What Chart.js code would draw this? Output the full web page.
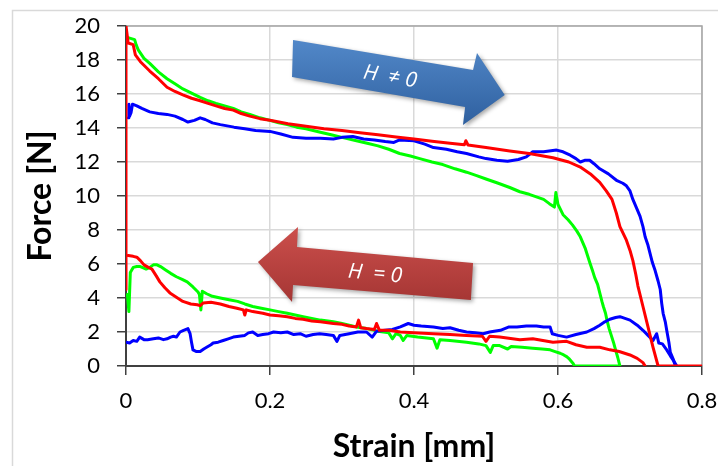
<!DOCTYPE html>
<html>
<head>
<meta charset="utf-8">
<script src="https://cdn.jsdelivr.net/npm/chart.js@4.4.1/dist/chart.umd.min.js"></script>
<style>
  html, body { margin: 0; padding: 0; background: #fff; }
  #wrap { width: 718px; height: 466px; position: relative; }
</style>
</head>
<body>
<div id="wrap"><canvas id="c" width="718" height="466"></canvas></div>
<script>
// Force vs strain loops: loading branch (H ≠ 0) and unloading branch (H = 0)
// for three samples. Each point is [strain in mm, force in N].

const xTicks = [0, 0.2, 0.4, 0.6, 0.8];
const yTicks = [0, 2, 4, 6, 8, 10, 12, 14, 16, 18, 20];

const redLoading = [
  [0,4.5],[0,20],[0.003,19.0],[0.010,18.9],[0.013,18.3],[0.020,17.9],[0.033,17.35],[0.045,16.9],
  [0.057,16.4],[0.068,16.15],[0.079,15.95],[0.091,15.75],[0.103,15.6],[0.114,15.45],[0.125,15.3],
  [0.137,15.15],[0.149,15.05],[0.160,14.85],[0.172,14.7],[0.186,14.55],[0.2,14.45],[0.225,14.25],
  [0.25,14.1],[0.275,13.95],[0.3,13.85],[0.325,13.72],[0.35,13.6],[0.375,13.47],[0.4,13.35],
  [0.425,13.22],[0.45,13.1],[0.470,13.02],[0.472,13.25],[0.475,13.0],[0.5,12.85],[0.533,12.65],
  [0.56,12.5],[0.593,12.25],[0.615,12.0],[0.631,11.7],[0.645,11.3],[0.658,10.8],[0.667,10.3],
  [0.675,9.8],[0.681,9.0],[0.686,8.2],[0.695,7.4],[0.700,6.8],[0.704,6.2],[0.708,5.4],[0.711,4.7],
  [0.718,3.5],[0.725,2.3],[0.732,1.1],[0.739,0],[0.8,0]
];
const redUnloading = [
  [0.003,6.5],[0.010,6.45],[0.015,6.4],[0.020,6.2],[0.025,5.95],[0.031,5.8],[0.036,5.7],[0.042,5.3],
  [0.047,4.95],[0.054,4.6],[0.061,4.3],[0.07,4.05],[0.079,3.8],[0.09,3.65],[0.099,3.6],[0.103,3.55],
  [0.107,3.7],[0.118,3.75],[0.131,3.65],[0.143,3.5],[0.154,3.4],[0.163,3.3],[0.165,3.0],[0.167,3.3],
  [0.176,3.2],[0.19,3.1],[0.2,3.0],[0.212,2.95],[0.224,2.9],[0.235,2.8],[0.246,2.75],[0.258,2.65],
  [0.27,2.6],[0.288,2.5],[0.3,2.45],[0.31,2.35],[0.32,2.3],[0.323,2.7],[0.326,2.25],[0.334,2.2],
  [0.345,2.15],[0.348,2.5],[0.352,2.1],[0.365,2.1],[0.381,2.0],[0.4,1.95],[0.427,1.9],[0.45,1.85],
  [0.473,1.8],[0.495,1.75],[0.5,1.45],[0.505,1.75],[0.519,1.7],[0.547,1.55],[0.565,1.6],[0.593,1.4],
  [0.612,1.45],[0.625,1.25],[0.64,1.1],[0.658,1.1],[0.672,0.95],[0.685,0.85],[0.7,0.65],[0.71,0.45],
  [0.718,0.2],[0.721,0]
];

const blueLoading = [
  [0.003,14.6],[0.004,15.4],[0.005,14.7],[0.007,14.9],[0.009,15.4],[0.015,15.3],[0.022,15.15],
  [0.033,14.95],[0.045,14.85],[0.057,14.8],[0.068,14.7],[0.079,14.5],[0.086,14.35],[0.095,14.45],
  [0.103,14.6],[0.11,14.5],[0.12,14.3],[0.131,14.2],[0.15,14.05],[0.165,13.95],[0.18,13.85],[0.2,13.8],
  [0.215,13.65],[0.232,13.45],[0.25,13.4],[0.27,13.4],[0.288,13.35],[0.3,13.45],[0.315,13.5],
  [0.33,13.35],[0.345,13.3],[0.36,13.2],[0.372,13.15],[0.38,13.3],[0.4,13.25],[0.415,13.05],
  [0.427,12.85],[0.445,12.75],[0.46,12.6],[0.473,12.5],[0.49,12.3],[0.5,12.2],[0.515,12.1],
  [0.53,12.05],[0.545,12.15],[0.556,12.3],[0.565,12.6],[0.58,12.6],[0.598,12.7],[0.607,12.6],
  [0.617,12.4],[0.625,12.2],[0.631,12.0],[0.637,12.1],[0.644,12.1],[0.65,11.9],[0.658,11.6],
  [0.67,11.3],[0.682,10.9],[0.69,10.75],[0.695,10.6],[0.7,10.3],[0.704,9.8],[0.709,9.3],[0.714,8.8],
  [0.718,8.2],[0.721,7.6],[0.725,7.1],[0.728,6.6],[0.731,6.1],[0.735,5.6],[0.739,5.0],[0.742,4.5],
  [0.744,3.7],[0.746,3.1],[0.749,2.6],[0.751,2.1],[0.754,1.4],[0.756,0.8],[0.76,0.4],[0.763,0]
];
const blueUnloading = [
  [0,1.4],[0.005,1.35],[0.01,1.5],[0.015,1.45],[0.019,1.7],[0.025,1.55],[0.03,1.55],[0.038,1.6],
  [0.045,1.65],[0.052,1.55],[0.057,1.6],[0.062,1.7],[0.066,1.75],[0.07,1.7],[0.075,2.0],[0.08,2.1],
  [0.086,2.2],[0.089,1.9],[0.091,1.4],[0.093,0.95],[0.098,0.85],[0.103,0.85],[0.108,1.0],[0.112,1.1],
  [0.118,1.25],[0.121,1.35],[0.128,1.4],[0.135,1.5],[0.142,1.6],[0.149,1.7],[0.157,1.75],[0.165,1.8],
  [0.17,1.95],[0.176,2.0],[0.183,1.8],[0.19,1.85],[0.198,1.9],[0.205,2.0],[0.215,1.95],[0.224,2.0],
  [0.233,1.85],[0.242,1.9],[0.25,1.75],[0.26,1.85],[0.269,1.9],[0.278,1.85],[0.288,1.8],[0.293,1.45],
  [0.297,1.8],[0.31,1.9],[0.322,2.0],[0.334,2.0],[0.342,1.7],[0.348,2.05],[0.36,2.1],[0.37,2.15],
  [0.381,2.3],[0.392,2.5],[0.4,2.4],[0.41,2.35],[0.427,2.3],[0.44,2.2],[0.45,2.25],[0.462,2.1],
  [0.473,2.0],[0.485,1.95],[0.496,1.9],[0.505,2.0],[0.52,2.1],[0.532,2.3],[0.543,2.3],[0.556,2.35],
  [0.57,2.35],[0.58,2.3],[0.589,2.3],[0.592,1.9],[0.6,1.8],[0.612,1.7],[0.625,1.85],[0.64,2.0],
  [0.65,2.2],[0.658,2.4],[0.665,2.6],[0.672,2.75],[0.68,2.85],[0.686,2.9],[0.693,2.8],[0.7,2.7],
  [0.71,2.4],[0.718,2.1],[0.725,1.8],[0.732,1.5],[0.737,1.9],[0.74,1.35],[0.745,1.3],[0.751,0.95],
  [0.756,0.6],[0.76,0.35],[0.765,0]
];

const greenLoading = [
  [0.004,19.3],[0.012,19.2],[0.014,18.9],[0.017,18.6],[0.025,18.1],[0.033,17.8],[0.045,17.3],
  [0.057,16.9],[0.068,16.6],[0.079,16.3],[0.091,16.05],[0.103,15.8],[0.114,15.6],[0.125,15.45],
  [0.137,15.3],[0.149,15.15],[0.16,14.95],[0.172,14.8],[0.186,14.6],[0.2,14.45],[0.212,14.3],
  [0.224,14.2],[0.237,14.05],[0.25,13.95],[0.26,13.85],[0.27,13.75],[0.285,13.6],[0.3,13.45],
  [0.32,13.25],[0.335,13.1],[0.35,12.95],[0.365,12.75],[0.38,12.5],[0.395,12.35],[0.408,12.2],
  [0.425,12.0],[0.44,11.85],[0.457,11.6],[0.473,11.4],[0.487,11.2],[0.5,11.0],[0.517,10.75],
  [0.533,10.5],[0.547,10.25],[0.56,10.1],[0.57,9.95],[0.58,9.8],[0.588,9.55],[0.595,9.35],
  [0.597,10.2],[0.6,9.5],[0.607,8.9],[0.614,8.6],[0.62,8.3],[0.626,7.95],[0.631,7.6],[0.635,7.2],
  [0.638,6.9],[0.641,6.5],[0.644,6.1],[0.648,5.6],[0.651,5.2],[0.655,4.8],[0.658,4.3],[0.661,3.8],
  [0.663,3.5],[0.666,3.1],[0.668,2.7],[0.671,2.2],[0.674,1.8],[0.677,1.4],[0.679,1.1],[0.683,0.5],
  [0.686,0]
];
const greenUnloading = [
  [0.002,4.2],[0.004,3.2],[0.006,5.5],[0.01,5.8],[0.015,5.85],[0.02,5.85],[0.028,5.7],[0.033,5.8],
  [0.038,5.95],[0.043,5.95],[0.048,5.85],[0.055,5.65],[0.062,5.45],[0.07,5.25],[0.078,5.1],
  [0.085,4.95],[0.093,4.65],[0.1,4.35],[0.102,4.2],[0.104,3.3],[0.106,4.4],[0.112,4.25],[0.12,4.1],
  [0.131,4.0],[0.143,3.9],[0.155,3.8],[0.165,3.65],[0.176,3.5],[0.188,3.4],[0.2,3.3],[0.212,3.2],
  [0.224,3.1],[0.235,3.0],[0.246,2.9],[0.258,2.8],[0.27,2.7],[0.288,2.6],[0.3,2.5],[0.31,2.4],
  [0.32,2.3],[0.334,2.2],[0.35,2.05],[0.365,1.95],[0.37,1.6],[0.375,1.9],[0.381,1.8],[0.385,1.5],
  [0.39,1.8],[0.405,1.7],[0.427,1.6],[0.432,1.05],[0.436,1.55],[0.45,1.5],[0.473,1.4],[0.49,1.3],
  [0.5,1.2],[0.506,0.8],[0.51,1.2],[0.519,1.2],[0.53,1.0],[0.535,1.15],[0.55,1.1],[0.565,1.05],
  [0.578,1.0],[0.589,0.95],[0.596,0.85],[0.603,0.75],[0.608,0.65],[0.612,0.55],[0.616,0.4],
  [0.621,0.15],[0.623,0],[0.686,0]
];

// Direction arrows, outlines given in axis units (strain, force)
const loadArrowOutline = [
  [0.232,19.18],[0.482,17.41],[0.4875,18.41],[0.526,15.94],[0.468,14.18],[0.471,15.24],[0.2306,17.0]
];
const unloadArrowOutline = [
  [0.1833,6.12],[0.2389,8.18],[0.2375,7.0],[0.482,6.06],[0.479,3.88],[0.232,4.76],[0.2306,3.76]
];
const arrows = [
  { outline: loadArrowOutline, top: '#5288c9', bottom: '#2f609f', label: 'H  \u2260 0',
    at: [0.3667, 17.0], angle: 9.8 },
  { outline: unloadArrowOutline, top: '#cc4f4c', bottom: '#a53634', label: 'H  = 0',
    at: [0.3458, 5.41], angle: 5.2 }
];

const toPoints = arr => arr.map(([x, y]) => ({ x, y }));

const frame = {
  id: 'frame',
  beforeDraw(chart) {
    const { ctx } = chart;
    ctx.save();
    ctx.strokeStyle = '#d9d9d9';
    ctx.lineWidth = 1.5;
    ctx.strokeRect(12.5, 10.5, 800, 600);
    ctx.restore();
  },
  beforeDatasetsDraw(chart) {
    const { ctx, chartArea: a } = chart;
    ctx.save();
    ctx.strokeStyle = '#a6a6a6';
    ctx.lineWidth = 1.5;
    ctx.beginPath();
    ctx.moveTo(a.left, a.top);
    ctx.lineTo(a.right, a.top);
    ctx.lineTo(a.right, a.bottom);
    ctx.stroke();
    ctx.restore();
  }
};

const arrowPlugin = {
  id: 'arrows',
  afterDatasetsDraw(chart) {
    const { ctx, scales: { x, y } } = chart;
    arrows.forEach(a => {
      const pts = a.outline.map(([sx, fy]) => [x.getPixelForValue(sx), y.getPixelForValue(fy)]);
      const ys = pts.map(p => p[1]);
      const g = ctx.createLinearGradient(0, Math.min(...ys), 0, Math.max(...ys));
      g.addColorStop(0, a.top);
      g.addColorStop(1, a.bottom);
      ctx.save();
      ctx.shadowColor = 'rgba(0,0,0,0.35)';
      ctx.shadowBlur = 4;
      ctx.shadowOffsetX = 2;
      ctx.shadowOffsetY = 2;
      ctx.fillStyle = g;
      ctx.beginPath();
      pts.forEach(([px, py], i) => (i ? ctx.lineTo(px, py) : ctx.moveTo(px, py)));
      ctx.closePath();
      ctx.fill();
      ctx.restore();

      ctx.save();
      ctx.translate(x.getPixelForValue(a.at[0]), y.getPixelForValue(a.at[1]));
      ctx.rotate(a.angle * Math.PI / 180);
      ctx.fillStyle = '#ffffff';
      ctx.font = 'italic 21px "Open Sans", "DejaVu Sans", sans-serif';
      ctx.textAlign = 'center';
      ctx.textBaseline = 'middle';
      ctx.fillText(a.label, 0, 0);
      ctx.restore();
    });
  }
};

const line = (data, color) => ({
  data: toPoints(data),
  borderColor: color,
  backgroundColor: color,
  borderWidth: 3,
  pointRadius: 0,
  showLine: true,
  fill: false,
  tension: 0,
  borderJoinStyle: 'round',
  borderCapStyle: 'round'
});

new Chart(document.getElementById('c'), {
  type: 'scatter',
  data: {
    datasets: [
      line(redLoading, '#ff0000'),
      line(redUnloading, '#ff0000'),
      line(blueLoading, '#0000ff'),
      line(blueUnloading, '#0000ff'),
      line(greenLoading, '#00ff00'),
      line(greenUnloading, '#00ff00')
    ]
  },
  options: {
    responsive: false,
    animation: false,
    devicePixelRatio: 1,
    layout: { padding: { top: 26, right: 16, left: 0, bottom: 0 } },
    plugins: { legend: { display: false }, tooltip: { enabled: false } },
    scales: {
      x: {
        type: 'linear',
        min: xTicks[0],
        max: xTicks[xTicks.length - 1],
        afterBuildTicks: s => { s.ticks = xTicks.map(v => ({ value: v })); },
        afterFit: s => { s.height = 100; s.paddingLeft = 0; s.paddingRight = 0; },
        border: { color: '#404040', width: 2 },
        grid: { color: '#d9d9d9', lineWidth: 1.5, tickColor: '#404040', tickLength: 9, tickWidth: 1.5 },
        ticks: { color: '#000', font: { family: 'Lato', size: 22 }, padding: 13, maxRotation: 0 },
        title: {
          display: true, text: 'Strain [mm]', color: '#000',
          font: { family: 'Lato', size: 32, weight: 'bold', lineHeight: 1.2 },
          padding: { top: 0, bottom: 0 }
        }
      },
      y: {
        type: 'linear',
        min: yTicks[0],
        max: yTicks[yTicks.length - 1],
        afterBuildTicks: s => { s.ticks = yTicks.map(v => ({ value: v })); },
        afterFit: s => { s.width = 126; s.paddingTop = 0; s.paddingBottom = 0; },
        border: { color: '#404040', width: 2 },
        grid: { color: '#d9d9d9', lineWidth: 1.5, tickColor: '#404040', tickLength: 9, tickWidth: 1.5 },
        ticks: { color: '#000', font: { family: 'Lato', size: 22 }, padding: 17 },
        title: {
          display: true, text: 'Force [N]', color: '#000',
          font: { family: 'Lato', size: 32, weight: 'bold', lineHeight: 1.2 },
          padding: { top: 21, bottom: 0 }
        }
      }
    }
  },
  plugins: [frame, arrowPlugin]
});
</script>
</body>
</html>
